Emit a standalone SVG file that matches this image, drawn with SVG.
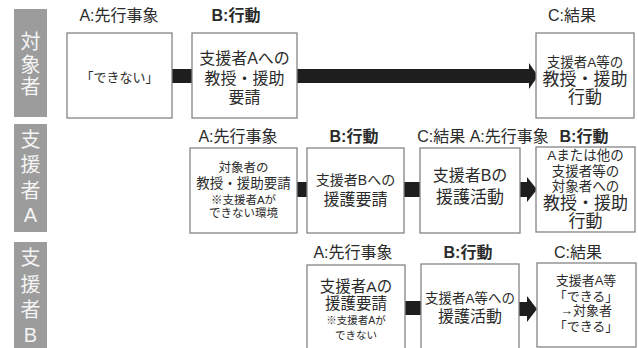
<svg xmlns="http://www.w3.org/2000/svg" width="638" height="348" viewBox="0 0 638 348">
<style>
text{font-family:"Liberation Sans","Noto Sans CJK JP",sans-serif;fill:#2b2b2b;text-anchor:middle}
.lane rect{fill:#9c9c9c}
.lane text{fill:#f4f4f4;font-size:20px}
.box{fill:#fff;stroke:#858585;stroke-width:1.3}
.hd{font-size:16px}
.hb{font-size:16px;font-weight:bold}
.bar{fill:#1e1e1e}
</style>
<rect width="638" height="348" fill="#fff"/>

<g id="lane-target" class="lane">
<rect x="14" y="9" width="33" height="108"/>
<text x="30.5" y="49">対</text><text x="30.5" y="72">象</text><text x="30.5" y="94">者</text>
</g>
<g id="lane-supA" class="lane">
<rect x="14" y="124" width="33" height="108"/>
<text x="30.5" y="147">支</text><text x="30.5" y="172">援</text><text x="30.5" y="198">者</text><text x="30.5" y="222">A</text>
</g>
<g id="lane-supB" class="lane">
<rect x="14" y="242" width="33" height="108"/>
<text x="30.5" y="265">支</text><text x="30.5" y="292">援</text><text x="30.5" y="317">者</text><text x="30.5" y="342">B</text>
</g>

<g id="headers">
<text class="hd" x="119" y="21">A:先行事象</text>
<text class="hb" x="236" y="21">B:行動</text>
<text class="hd" x="572" y="21">C:結果</text>
<text class="hd" x="238" y="142">A:先行事象</text>
<text class="hb" x="354" y="142">B:行動</text>
<text class="hd" x="483" y="142">C:結果 A:先行事象</text>
<text class="hb" x="584" y="142">B:行動</text>
<text class="hd" x="353" y="258">A:先行事象</text>
<text class="hb" x="468" y="258">B:行動</text>
<text class="hd" x="578" y="258">C:結果</text>
</g>

<g id="connectors">
<rect class="bar" x="172" y="69" width="20" height="14"/>
<rect class="bar" x="297" y="69" width="233" height="14"/>
<polygon class="bar" points="529,63 538,76 529,89"/>
<rect class="bar" x="297" y="182" width="10" height="15"/>
<rect class="bar" x="404" y="182" width="16" height="15"/>
<rect class="bar" x="520" y="182" width="8" height="15"/>
<polygon class="bar" points="527,177 537,189.5 527,202"/>
<rect class="bar" x="405" y="301" width="17" height="14"/>
<rect class="bar" x="519" y="302" width="9" height="14"/>
<polygon class="bar" points="527,296 537,309 527,322"/>
</g>

<g id="n1">
<rect class="box" x="67" y="33" width="105" height="85"/>
<text x="119.5" y="82" font-size="13">「できない」</text>
</g>
<g id="n2">
<rect class="box" x="192" y="33" width="105" height="85"/>
<text x="244.5" y="64" font-size="16">支援者Aへの</text>
<text x="244.5" y="84" font-size="16">教授・援助</text>
<text x="244.5" y="103" font-size="16">要請</text>
</g>
<g id="n3">
<rect class="box" x="536" y="33" width="98" height="85"/>
<text x="585" y="67" font-size="13.5">支援者A等の</text>
<text x="585" y="85" font-size="17">教授・援助</text>
<text x="585" y="103" font-size="17">行動</text>
</g>

<g id="n4">
<rect class="box" x="190" y="148" width="107" height="85"/>
<text x="243.5" y="172" font-size="12.5">対象者の</text>
<text x="243.5" y="188" font-size="13.5">教授・援助要請</text>
<text x="243.5" y="204" font-size="11.5">※支援者Aが</text>
<text x="243.5" y="217" font-size="11.5">できない環境</text>
</g>
<g id="n5">
<rect class="box" x="307" y="148" width="97" height="85"/>
<text x="355.5" y="185" font-size="14">支援者Bへの</text>
<text x="355.5" y="205" font-size="16">援護要請</text>
</g>
<g id="n6">
<rect class="box" x="420" y="148" width="100" height="85"/>
<text x="470" y="181" font-size="16">支援者Bの</text>
<text x="470" y="203" font-size="17">援護活動</text>
</g>
<g id="n7">
<rect class="box" x="536" y="147" width="99" height="85"/>
<text x="585.5" y="160" font-size="13.5">Aまたは他の</text>
<text x="585.5" y="176" font-size="13.5">支援者等の</text>
<text x="585.5" y="191" font-size="13.5">対象者への</text>
<text x="585.5" y="209" font-size="17">教授・援助</text>
<text x="585.5" y="227" font-size="17">行動</text>
</g>

<g id="n8">
<rect class="box" x="307" y="265" width="98" height="90"/>
<text x="356" y="292" font-size="15.5">支援者Aの</text>
<text x="356" y="309" font-size="15.5">援護要請</text>
<text x="356" y="324" font-size="10.5">※支援者Aが</text>
<text x="356" y="339" font-size="10.5">できない</text>
</g>
<g id="n9">
<rect class="box" x="421" y="264" width="98" height="90"/>
<text x="470" y="303" font-size="13.5">支援者A等への</text>
<text x="470" y="322" font-size="16">援護活動</text>
</g>
<g id="n10">
<rect class="box" x="537" y="263" width="99" height="84"/>
<text x="586" y="285" font-size="13">支援者A等</text>
<text x="586" y="301" font-size="13">「できる」</text>
<text x="586" y="315" font-size="13">→対象者</text>
<text x="586" y="331" font-size="13">「できる」</text>
</g>
</svg>
